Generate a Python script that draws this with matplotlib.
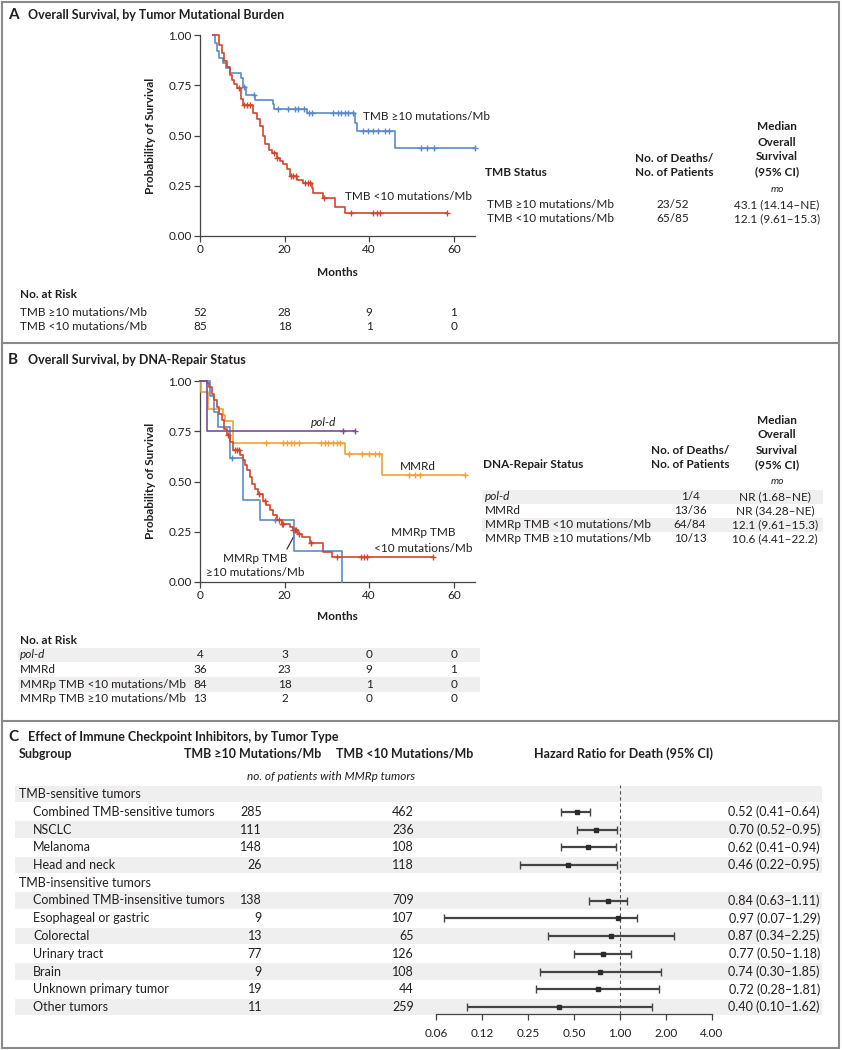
import numpy as np
import matplotlib
matplotlib.use("Agg")
import matplotlib.pyplot as plt
from matplotlib.transforms import blended_transform_factory
from matplotlib.patches import Rectangle

plt.rcParams["font.family"] = ["Lato", "DejaVu Sans"]
NARROW = ["Liberation Sans Narrow", "Lato", "DejaVu Sans"]

INK = "#231f20"
BLUE = "#5a8bc8"
RED = "#d2452e"
ORANGE = "#efa238"
PURPLE = "#7c4d9e"
SHADE = "#efefef"
FRAME = "#8a8a8a"

# ---------------- Panel A: KM by TMB ----------------
a_hi_t = [3.1, 3.6, 4.1, 4.6, 5.4, 6.2, 7.2, 9.7, 10.1, 10.8, 13.0, 17.3, 17.5, 25.3, 36.6, 37.2, 46.0]
a_hi_s = [1.0, 0.96, 0.92, 0.885, 0.86, 0.835, 0.81, 0.785, 0.74, 0.70, 0.675, 0.655, 0.63, 0.61, 0.56, 0.52, 0.436]
a_hi_cens = [10.4, 12.7, 18.5, 20.7, 22.4, 23.2, 24.5, 25.8, 26.4, 31.5, 32.6, 33.4, 34.2, 35.0, 36.2,
             38.6, 39.7, 40.9, 42.1, 43.7, 44.7, 52.3, 53.7, 55.3, 65.0]

a_lo_t = [3.1, 4.6, 5.1, 5.7, 6.4, 7.0, 7.5, 8.1, 8.7, 9.7, 10.1, 12.6, 13.4, 14.2, 15.0, 15.4, 16.2, 17.0,
          18.1, 18.9, 19.7, 20.5, 21.3, 23.0, 24.4, 26.4, 26.8, 29.1, 31.9, 34.3]
a_lo_s = [1.0, 0.95, 0.91, 0.87, 0.84, 0.80, 0.776, 0.755, 0.735, 0.68, 0.65, 0.61, 0.58, 0.545, 0.50, 0.456,
          0.43, 0.415, 0.39, 0.375, 0.36, 0.333, 0.30, 0.28, 0.262, 0.237, 0.216, 0.19, 0.146, 0.116]
a_lo_cens = [9.3, 10.5, 11.2, 11.7, 17.6, 18.2, 21.5, 22.0, 22.6, 24.9, 25.5, 25.9, 29.3, 35.6, 40.8, 41.9, 42.5, 58.3]

a_rows = ["TMB \u226510 mutations/Mb", "TMB <10 mutations/Mb"]
a_deaths = ["23/52", "65/85"]
a_median = ["43.1 (14.14\u2013NE)", "12.1 (9.61\u201315.3)"]
a_risk = [[52, 28, 9, 1], [85, 18, 1, 0]]

# ---------------- Panel B: KM by DNA-repair status ----------------
b_pold_t = [0, 1.7]
b_pold_s = [1.0, 0.75]
b_pold_cens = [33.7, 36.6]

b_mmrd_t = [0, 0.3, 1.8, 5.5, 5.9, 7.7, 34.2, 43.1]
b_mmrd_s = [1.0, 0.944, 0.861, 0.833, 0.80, 0.694, 0.635, 0.53]
b_mmrd_cens = [15.5, 19.7, 20.5, 21.5, 22.3, 23.5, 28.7, 29.5, 30.3, 31.5, 32.4, 33.2, 35.3, 38.2, 40.0,
               41.3, 42.3, 49.4, 50.8, 52.1, 62.6]

b_lo_t = [0, 1.6, 2.2, 2.8, 3.3, 3.9, 4.6, 5.1, 5.7, 6.3, 7.1, 7.9, 9.4, 10.1, 10.6, 11.2, 11.8, 12.4, 13.0,
          13.8, 15.0, 15.7, 16.5, 17.3, 18.1, 19.3, 21.3, 21.9, 23.2, 24.0, 26.0, 29.0, 31.1]
b_lo_s = [1.0, 0.988, 0.97, 0.937, 0.904, 0.87, 0.837, 0.804, 0.763, 0.73, 0.697, 0.655, 0.63, 0.605, 0.58,
          0.556, 0.522, 0.49, 0.464, 0.44, 0.403, 0.381, 0.357, 0.332, 0.307, 0.287, 0.274, 0.26, 0.24, 0.224,
          0.194, 0.149, 0.124]
b_lo_cens = [6.6, 8.3, 8.7, 9.1, 13.9, 15.3, 18.6, 19.3, 19.7, 22.0, 22.4, 22.8, 23.4, 26.2, 32.3, 38.0, 38.8,
             39.5, 55.1]

b_hi_t = [0, 2.4, 3.3, 4.2, 7.0, 10.2, 14.2, 22.2, 33.6]
b_hi_s = [1.0, 0.923, 0.846, 0.769, 0.615, 0.41, 0.307, 0.154, 0.0]
b_hi_cens = [7.5, 17.7]

b_rows = ["pol-d", "MMRd", "MMRp TMB <10 mutations/Mb", "MMRp TMB \u226510 mutations/Mb"]
b_deaths = ["1/4", "13/36", "64/84", "10/13"]
b_median = ["NR (1.68\u2013NE)", "NR (34.28\u2013NE)", "12.1 (9.61\u201315.3)", "10.6 (4.41\u201322.2)"]
b_risk = [[4, 3, 0, 0], [36, 23, 9, 1], [84, 18, 1, 0], [13, 2, 0, 0]]

risk_months = [0, 20, 40, 60]

# ---------------- Panel C: forest plot ----------------
c_groups = ["TMB-sensitive tumors", "TMB-insensitive tumors"]
c_labels = ["Combined TMB-sensitive tumors", "NSCLC", "Melanoma", "Head and neck",
            "Combined TMB-insensitive tumors", "Esophageal or gastric", "Colorectal", "Urinary tract",
            "Brain", "Unknown primary tumor", "Other tumors"]
c_group_of = [0, 0, 0, 0, 1, 1, 1, 1, 1, 1, 1]
c_n_hi = [285, 111, 148, 26, 138, 9, 13, 77, 9, 19, 11]
c_n_lo = [462, 236, 108, 118, 709, 107, 65, 126, 108, 44, 259]
c_hr = [0.52, 0.70, 0.62, 0.46, 0.84, 0.97, 0.87, 0.77, 0.74, 0.72, 0.40]
c_lo = [0.41, 0.52, 0.41, 0.22, 0.63, 0.07, 0.34, 0.50, 0.30, 0.28, 0.10]
c_hi = [0.64, 0.95, 0.94, 0.95, 1.11, 1.29, 2.25, 1.18, 1.85, 1.81, 1.62]
c_ticks = [1 / 16, 1 / 8, 1 / 4, 1 / 2, 1, 2, 4]
c_ticklabels = ["0.06", "0.12", "0.25", "0.50", "1.00", "2.00", "4.00"]

W, H = 842, 1050
fig = plt.figure(figsize=(W / 100, H / 100), dpi=100)
bg = fig.add_axes([0, 0, 1, 1])
bg.set_xlim(0, W)
bg.set_ylim(H, 0)
bg.axis("off")


def px_axes(left, top, right, bottom):
    return fig.add_axes([left / W, 1 - bottom / H, (right - left) / W, (bottom - top) / H])


def txt(x, y, s, size=8.5, **kw):
    kw.setdefault("va", "center")
    kw.setdefault("color", INK)
    return bg.text(x, y, s, fontsize=size, **kw)


def km(ax, times, surv, cens, color):
    t = np.array(times, dtype=float)
    s = np.array(surv, dtype=float)
    c = np.array(cens, dtype=float)
    end = max(t[-1], c.max()) if len(c) else t[-1]
    tt = np.append(t, end)
    ss = np.append(s, s[-1])
    ax.step(tt, ss, where="post", color=color, lw=1.2, clip_on=False, zorder=3)
    idx = np.searchsorted(t, c, side="right") - 1
    ax.plot(c, s[idx], ls="none", marker="+", ms=4.5, mew=1.0, color=color, clip_on=False, zorder=4)


def style_km(ax):
    ax.set_xlim(0, 65)
    ax.set_ylim(0, 1)
    for side in ["top", "right"]:
        ax.spines[side].set_visible(False)
    for side in ["left", "bottom"]:
        ax.spines[side].set_color("#444444")
        ax.spines[side].set_linewidth(0.9)
    ax.set_xticks(risk_months)
    ax.set_yticks([0, 0.25, 0.5, 0.75, 1.0])
    ax.set_yticklabels(["0.00", "0.25", "0.50", "0.75", "1.00"])
    ax.tick_params(direction="out", length=4, width=0.9, color="#444444", labelsize=8.5,
                   labelcolor=INK, pad=2)
    ax.patch.set_visible(False)


# ---- frame lines
bg.add_patch(Rectangle((1.5, 1.5), 837, 1046, fill=False, ec=FRAME, lw=1.5))
for yy in [343, 721]:
    bg.plot([1.5, 838.5], [yy, yy], color=FRAME, lw=1.5)

# ================= Panel A =================
txt(8, 15, "A", size=11, weight="bold")
txt(28, 15, "Overall Survival, by Tumor Mutational Burden", size=9, weight="bold")

axA = px_axes(200, 35, 475, 236)
km(axA, a_hi_t, a_hi_s, a_hi_cens, BLUE)
km(axA, a_lo_t, a_lo_s, a_lo_cens, RED)
style_km(axA)
txt(363, 117, a_rows[0], ha="left")
txt(345, 197, a_rows[1], ha="left")
txt(150, 136, "Probability of Survival", weight="bold", rotation=90, ha="center")
txt(337, 272, "Months", weight="bold", ha="center")

# table A
for yy, s in zip([127, 142, 157, 172], ["Median", "Overall", "Survival", "(95% CI)"]):
    txt(777, yy, s, weight="bold", ha="center")
txt(674, 158, "No. of Deaths/", weight="bold", ha="center")
txt(674, 173, "No. of Patients", weight="bold", ha="center")
txt(485, 173, "TMB Status", weight="bold", ha="left")
txt(777, 189, "mo", style="italic", ha="center", size=7.5)
for i in range(len(a_rows)):
    yy = 205 + 14 * i
    txt(487, yy, a_rows[i], ha="left")
    txt(673, yy, a_deaths[i], ha="center")
    txt(777, yy, a_median[i], ha="center")

# risk A
trA = blended_transform_factory(axA.transData, bg.transData)
txt(20, 295, "No. at Risk", weight="bold", ha="left")
for i in range(len(a_rows)):
    yy = 312 + 14 * i
    txt(20, yy, a_rows[i], ha="left")
    for m, n in zip(risk_months, a_risk[i]):
        bg.text(m, yy, str(n), transform=trA, ha="center", va="center", fontsize=8.5, color=INK)

# ================= Panel B =================
txt(8, 360, "B", size=11, weight="bold")
txt(28, 360, "Overall Survival, by DNA-Repair Status", size=9, weight="bold")

axB = px_axes(200, 381, 475, 582)
km(axB, b_mmrd_t, b_mmrd_s, b_mmrd_cens, ORANGE)
km(axB, b_hi_t, b_hi_s, b_hi_cens, BLUE)
km(axB, b_lo_t, b_lo_s, b_lo_cens, RED)
km(axB, b_pold_t, b_pold_s, b_pold_cens, PURPLE)
style_km(axB)
txt(150, 481, "Probability of Survival", weight="bold", rotation=90, ha="center")
txt(337, 617, "Months", weight="bold", ha="center")
txt(311, 423, "pol-d", style="italic", ha="left")
txt(418, 466, "MMRd", ha="center")
txt(423, 533, "MMRp TMB", ha="center")
txt(423, 548, "<10 mutations/Mb", ha="center")
txt(255, 558, "MMRp TMB", ha="center")
txt(255, 572, "\u226510 mutations/Mb", ha="center")
bg.plot([287, 294], [549, 536], color=INK, lw=0.8)

# table B
for yy, s in zip([420, 435, 450, 465], ["Median", "Overall", "Survival", "(95% CI)"]):
    txt(777, yy, s, weight="bold", ha="center")
txt(690, 450, "No. of Deaths/", weight="bold", ha="center")
txt(690, 465, "No. of Patients", weight="bold", ha="center")
txt(483, 465, "DNA-Repair Status", weight="bold", ha="left")
txt(777, 482, "mo", style="italic", ha="center", size=7.5)
for i in range(len(b_rows)):
    yy = 497 + 13.8 * i
    if i % 2 == 0:
        bg.add_patch(Rectangle((482, yy - 6.9), 341, 13.8, color=SHADE, lw=0, zorder=0))
    txt(485, yy, b_rows[i], ha="left", style="italic" if i == 0 else "normal")
    txt(690, yy, b_deaths[i], ha="center")
    txt(775, yy, b_median[i], ha="center")

# risk B
trB = blended_transform_factory(axB.transData, bg.transData)
txt(20, 641, "No. at Risk", weight="bold", ha="left")
for i in range(len(b_rows)):
    yy = 655 + 14.6 * i
    if i % 2 == 0:
        bg.add_patch(Rectangle((18, yy - 7.3), 462, 14.6, color=SHADE, lw=0, zorder=0))
    txt(20, yy, b_rows[i], ha="left", style="italic" if i == 0 else "normal")
    for m, n in zip(risk_months, b_risk[i]):
        bg.text(m, yy, str(n), transform=trB, ha="center", va="center", fontsize=8.5, color=INK)

# ================= Panel C =================
txt(8, 737, "C", size=11, weight="bold")
txt(28, 737, "Effect of Immune Checkpoint Inhibitors, by Tumor Type", size=9, weight="bold",
    family=NARROW)
txt(19, 754, "Subgroup", weight="bold", ha="left", family=NARROW, size=9)
txt(253, 754, "TMB \u226510 Mutations/Mb", weight="bold", ha="center", family=NARROW, size=9)
txt(405, 754, "TMB <10 Mutations/Mb", weight="bold", ha="center", family=NARROW, size=9)
txt(623, 754, "Hazard Ratio for Death (95% CI)", weight="bold", ha="center", family=NARROW, size=9)
txt(331, 776, "no. of patients with MMRp tumors", style="italic", ha="center", family=NARROW, size=8.5)

row0, dy = 794, 17.75
axC = px_axes(436, row0 - 9, 712, 1014)
axC.set_ylim((1014 - row0) / dy, -9 / dy)
axC.set_xscale("log", base=2)
axC.set_xlim(c_ticks[0], c_ticks[-1])
axC.set_xticks(c_ticks)
axC.set_xticklabels(c_ticklabels)
axC.minorticks_off()
axC.set_yticks([])
for side in ["top", "right", "left"]:
    axC.spines[side].set_visible(False)
axC.spines["bottom"].set_color("#444444")
axC.spines["bottom"].set_linewidth(0.9)
axC.tick_params(axis="x", direction="out", length=4, width=0.9, color="#444444", labelsize=8.5,
                labelcolor=INK, pad=6)
for lab in axC.get_xticklabels():
    lab.set_family(NARROW)
axC.patch.set_visible(False)
axC.axvline(1, color="#555555", lw=0.8, ls=(0, (3, 2.5)), zorder=1)

r = 0
last_group = None
for i in range(len(c_labels)):
    g = c_group_of[i]
    if g != last_group:
        yy = row0 + dy * r
        if r % 2 == 0:
            bg.add_patch(Rectangle((15, yy - dy / 2 + 0.6), 807, dy - 1.2, color=SHADE, lw=0, zorder=0))
        txt(19, yy, c_groups[g], ha="left", family=NARROW, size=9)
        r += 1
        last_group = g
    yy = row0 + dy * r
    if r % 2 == 0:
        bg.add_patch(Rectangle((15, yy - dy / 2 + 0.6), 807, dy - 1.2, color=SHADE, lw=0, zorder=0))
    txt(33, yy, c_labels[i], ha="left", family=NARROW, size=9)
    txt(262, yy, str(c_n_hi[i]), ha="right", family=NARROW, size=9)
    txt(414, yy, str(c_n_lo[i]), ha="right", family=NARROW, size=9)
    txt(820, yy, f"{c_hr[i]:.2f} ({c_lo[i]:.2f}\u2013{c_hi[i]:.2f})", ha="right", family=NARROW, size=9)
    axC.errorbar(c_hr[i], r, xerr=[[c_hr[i] - c_lo[i]], [c_hi[i] - c_hr[i]]], fmt="s", ms=3.2,
                 color="#2b2b2b", ecolor="#444444", elinewidth=1.6, capsize=2.8, capthick=1.0, zorder=3)
    r += 1

fig.savefig("out.png", dpi=100)
